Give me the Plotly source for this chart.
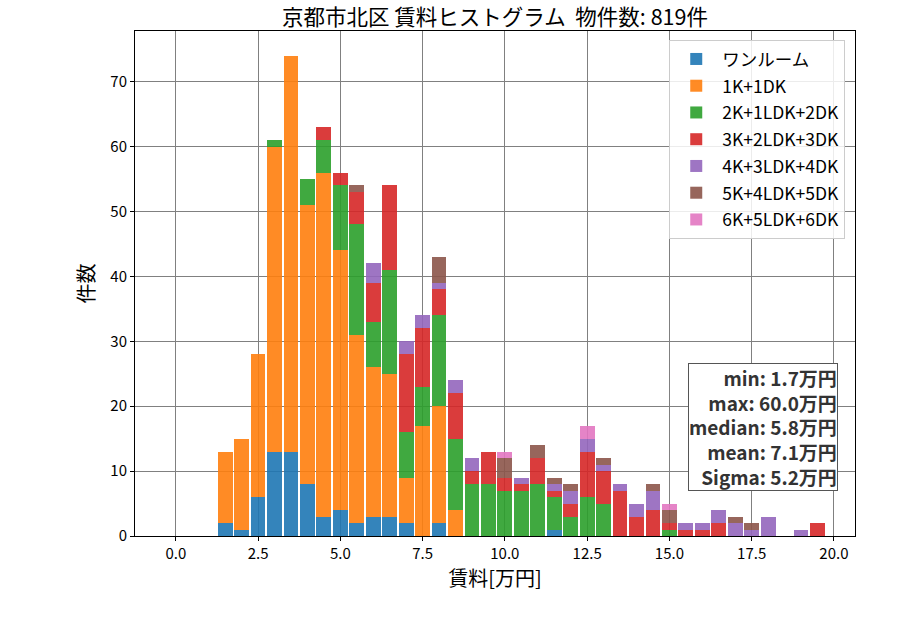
import plotly.graph_objects as go

bin_centers = [1.5 + 0.5 * i for i in range(37)]

layout_names = ["ワンルーム", "1K+1DK", "2K+1LDK+2DK", "3K+2LDK+3DK",
                "4K+3LDK+4DK", "5K+4LDK+5DK", "6K+5LDK+6DK"]
colors = ["#1f77b4", "#ff7f0e", "#2ca02c", "#d62728", "#9467bd", "#8c564b", "#e377c2"]

one_room = [2, 1, 6, 13, 13, 8, 3, 4, 2, 3, 3, 2, 0, 2, 0, 0, 0, 0, 0, 0, 1, 0, 0, 0, 0, 0, 0, 0, 0, 0, 0, 0, 0, 0, 0, 0, 0]
k1 = [11, 14, 22, 47, 61, 43, 53, 40, 29, 23, 22, 7, 17, 18, 4, 0, 0, 0, 0, 0, 0, 0, 0, 0, 0, 0, 0, 0, 0, 0, 0, 0, 0, 0, 0, 0, 0]
k2 = [0, 0, 0, 1, 0, 4, 5, 10, 17, 7, 16, 7, 6, 14, 11, 8, 8, 7, 7, 8, 5, 3, 6, 5, 0, 0, 0, 1, 0, 0, 0, 0, 0, 0, 0, 0, 0]
k3 = [0, 0, 0, 0, 0, 0, 2, 2, 5, 6, 13, 12, 9, 4, 7, 2, 5, 2, 1, 4, 1, 2, 7, 5, 7, 3, 4, 1, 1, 1, 2, 0, 0, 0, 0, 0, 2]
k4 = [0, 0, 0, 0, 0, 0, 0, 0, 0, 3, 0, 2, 2, 1, 2, 2, 0, 0, 1, 0, 1, 2, 2, 1, 1, 2, 3, 0, 1, 1, 2, 2, 1, 3, 0, 1, 0]
k5 = [0, 0, 0, 0, 0, 0, 0, 0, 1, 0, 0, 0, 0, 4, 0, 0, 0, 3, 0, 2, 1, 1, 0, 1, 0, 0, 1, 2, 0, 0, 0, 1, 1, 0, 0, 0, 0]
k6 = [0, 0, 0, 0, 0, 0, 0, 0, 0, 0, 0, 0, 0, 0, 0, 0, 0, 1, 0, 0, 0, 0, 2, 0, 0, 0, 0, 1, 0, 0, 0, 0, 0, 0, 0, 0, 0]

series = [one_room, k1, k2, k3, k4, k5, k6]

x_ticks = [0, 2.5, 5, 7.5, 10, 12.5, 15, 17.5, 20]
y_ticks = [0, 10, 20, 30, 40, 50, 60, 70]

stats_text = "min: 1.7万円<br>max: 60.0万円<br>median: 5.8万円<br>mean: 7.1万円<br>Sigma: 5.2万円"
title_text = "京都市北区 賃料ヒストグラム\u00a0 物件数: 819件"

FONT = "Noto Sans CJK JP"

fig = go.Figure()
for i, (name, vals) in enumerate(zip(layout_names, series)):
    fig.add_trace(go.Bar(
        x=bin_centers, y=vals, name=name, width=0.45,
        marker=dict(color=colors[i], line=dict(width=0)),
        opacity=0.9, legendgroup=f"g{i}",
    ))

axis_common = dict(
    showgrid=True, gridcolor="#808080", gridwidth=1,
    showline=True, linecolor="black", linewidth=1, mirror=True,
    ticks="outside", ticklen=4, tickcolor="black",
    tickfont=dict(family=FONT, size=15, color="black"),
    zeroline=False, layer="above traces",
)

fig.update_layout(
    width=900, height=630,
    barmode="stack", bargap=0,
    plot_bgcolor="white", paper_bgcolor="white",
    margin=dict(l=135, r=45, t=31, b=94),
    title=dict(text=title_text, x=0.5, xref="paper", xanchor="center", y=0.973, yanchor="middle",
               font=dict(family=FONT, size=21.5, color="black")),
    xaxis=dict(range=[-1.24, 20.64], tickvals=x_ticks, tickformat=".1f",
               title=dict(text="賃料[万円]", font=dict(family=FONT, size=20, color="black"), standoff=6),
               **axis_common),
    yaxis=dict(range=[0, 77.8], tickvals=y_ticks,
               title=dict(text="件数", font=dict(family=FONT, size=20, color="black"), standoff=10),
               **axis_common),
    legend=dict(x=0.742, y=0.982, xanchor="left", yanchor="top",
                bgcolor="rgba(255,255,255,0.85)", bordercolor="#cccccc", borderwidth=1,
                font=dict(family=FONT, size=17.5, color="black"),
                traceorder="grouped", tracegroupgap=1, itemwidth=42),
    showlegend=True,
)

fig.add_annotation(
    xref="paper", yref="paper", x=0.976, y=0.343, xanchor="right", yanchor="top",
    text=stats_text, align="right", showarrow=False,
    font=dict(family=FONT, size=19, color="#333333", weight="bold"),
    bgcolor="white", bordercolor="#555555", borderwidth=1, borderpad=0,
)

fig.write_html("out.html")
